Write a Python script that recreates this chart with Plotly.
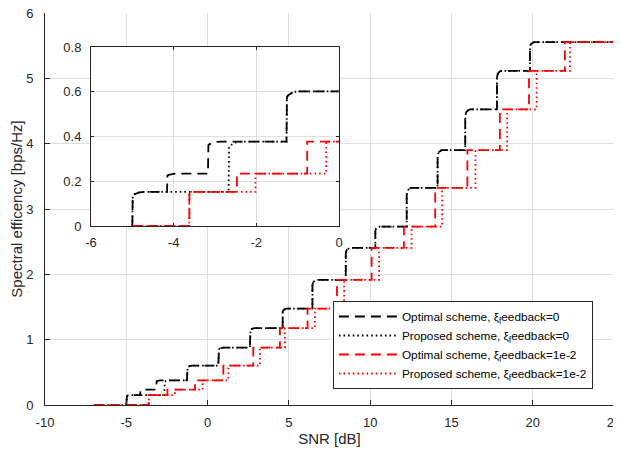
import math
import plotly.graph_objects as go

# ---------------- data ----------------
levels = [0.0, 0.1523, 0.2344, 0.3770, 0.6016, 0.8770, 1.1758, 1.4766,
          1.9141, 2.4063, 2.7305, 3.3223, 3.9023, 4.5234, 5.1152, 5.5547]

# SNR [dB] where each curve jumps to the next level
black_opt_snr = [-5.0, -4.16, -3.17, -1.27, 0.66, 2.60, 4.62, 6.45, 8.50,
                 10.32, 12.25, 14.15, 15.85, 17.80, 19.83]
black_opt_lvl = levels[1:]

black_prop_snr = [-5.0, -2.67, -1.27, 0.66, 2.60, 4.62, 6.45, 8.50,
                  10.32, 12.25, 14.15, 15.85, 17.80, 19.83]
black_prop_lvl = [levels[1]] + levels[3:]

red_opt_snr = [-3.62, -2.47, -0.77, 0.97, 2.81, 4.45, 6.15, 7.96, 10.09,
               12.08, 14.00, 15.98, 17.98, 19.77, 21.98]
red_opt_lvl = levels[1:]

red_prop_snr = [-3.62, -2.02, -0.31, 1.28, 3.22, 4.76, 6.60, 8.40, 10.55,
                12.55, 14.43, 16.48, 18.43, 20.24, 22.29]
red_prop_lvl = levels[1:]

snr_start_black = -5.0
snr_start_red_main = -7.0
snr_start_red_inset = -5.0
snr_end = 25.0

names = ["Optimal scheme, ξ<sub>f</sub>eedback=0",
         "Proposed scheme, ξ<sub>f</sub>eedback=0",
         "Optimal scheme, ξ<sub>f</sub>eedback=1e-2",
         "Proposed scheme, ξ<sub>f</sub>eedback=1e-2"]

main_xticks = [-10, -5, 0, 5, 10, 15, 20, 25]
main_xtext = ["-10", "-5", "0", "5", "10", "15", "20", "25"]
main_yticks = [0, 1, 2, 3, 4, 5, 6]
inset_xticks = [-6, -4, -2, 0]
inset_xtext = ["-6", "-4", "-2", "0"]
inset_yticks = [0, 0.2, 0.4, 0.6, 0.8]
inset_ytext = ["0", "0.2", "0.4", "0.6", "0.8"]


# ---------------- helpers ----------------
def step_path(x0, x_end, jumps, lvls, knee_dx=0.0, knee_frac=0.0):
    xs, ys = [x0], [0.0]
    prev = 0.0
    for xj, L in zip(jumps, lvls):
        xs.append(xj); ys.append(prev)
        if knee_dx > 0:
            dy = knee_frac * (L - prev)
            for deg in (0, 15, 30, 45, 60, 75, 90):
                t = math.radians(deg)
                xs.append(xj + knee_dx * (1 - math.cos(t)))
                ys.append(L - dy * (1 - math.sin(t)))
        else:
            xs.append(xj); ys.append(L)
        prev = L
    xs.append(x_end); ys.append(prev)
    return xs, ys


BLACK = "#000000"
RED = "#ff0000"
DASH = "10px,6px"
DOT = "1.6px,3px"
LW = 1.8
AX = "#262626"
GRID = "#dfdfdf"
FONT = "Liberation Sans, Arial, sans-serif"

fig = go.Figure()

specs = [
    (black_opt_snr, black_opt_lvl, snr_start_black, snr_start_black, BLACK, DASH, True),
    (black_prop_snr, black_prop_lvl, snr_start_black, snr_start_black, BLACK, DOT, True),
    (red_opt_snr, red_opt_lvl, snr_start_red_main, snr_start_red_inset, RED, DASH, False),
    (red_prop_snr, red_prop_lvl, snr_start_red_main, snr_start_red_inset, RED, DOT, False),
]

for i, (sx, lv, s_main, s_inset, col, dash, knee) in enumerate(specs):
    kdx = 0.3 if knee else 0.0
    kfr = 0.18 if knee else 0.0
    xm, ym = step_path(s_main, snr_end, sx, lv, kdx, kfr)
    fig.add_trace(go.Scatter(x=xm, y=ym, mode="lines", name=names[i],
                             line=dict(color=col, width=LW, dash=dash),
                             xaxis="x", yaxis="y", showlegend=True))

for i, (sx, lv, s_main, s_inset, col, dash, knee) in enumerate(specs):
    kdx = 0.3 if knee else 0.0
    kfr = 0.15 if knee else 0.0
    xi, yi = step_path(s_inset, 0.5, sx, lv, kdx, kfr)
    fig.add_trace(go.Scatter(x=xi, y=yi, mode="lines", name=names[i],
                             line=dict(color=col, width=LW, dash=dash),
                             xaxis="x2", yaxis="y2", showlegend=False))

tickfont = dict(family=FONT, size=13, color=AX)

# the page body adds an 8px offset, so the figure is 8px smaller
fig.update_layout(
    width=613, height=445,
    margin=dict(l=37, r=7, t=5, b=48),
    paper_bgcolor="white", plot_bgcolor="white",
    font=dict(family=FONT, size=13, color=AX),
    xaxis=dict(domain=[0, 1], range=[-10, 25], tickvals=main_xticks,
               ticktext=main_xtext, showgrid=True, gridcolor=GRID,
               gridwidth=1, zeroline=False, showline=True, linecolor=AX,
               linewidth=1, ticks="inside", ticklen=5, tickcolor=AX,
               tickfont=tickfont, mirror=False, automargin=False,
               ticklabelstandoff=5, ticklabeloverflow="allow",
               title=dict(text="SNR [dB]", font=dict(family=FONT, size=15, color=AX),
                          standoff=4)),
    yaxis=dict(domain=[0, 1], range=[0, 6], tickvals=main_yticks,
               showgrid=True, gridcolor=GRID, gridwidth=1, zeroline=False,
               showline=True, linecolor=AX, linewidth=1, ticks="inside",
               ticklen=5, tickcolor=AX, tickfont=tickfont, mirror=False,
               automargin=False, ticklabelstandoff=8, ticklabeloverflow="allow",
               title=dict(text="Spectral efficency [bps/Hz]",
                          font=dict(family=FONT, size=15, color=AX), standoff=6)),
    xaxis2=dict(domain=[0.0808, 0.5167], range=[-6, 0], anchor="y2",
                tickvals=inset_xticks, ticktext=inset_xtext, showgrid=True,
                gridcolor=GRID, zeroline=False, showline=True, linecolor=AX,
                linewidth=1, mirror="ticks", ticks="inside", ticklen=3,
                tickcolor=AX, tickfont=tickfont, automargin=False,
                ticklabelstandoff=4, ticklabeloverflow="allow"),
    yaxis2=dict(domain=[0.4566, 0.913], range=[0, 0.8], anchor="x2",
                tickvals=inset_yticks, ticktext=inset_ytext, showgrid=True,
                gridcolor=GRID, zeroline=False, showline=True, linecolor=AX,
                linewidth=1, mirror="ticks", ticks="inside", ticklen=3,
                tickcolor=AX, tickfont=tickfont, automargin=False,
                ticklabelstandoff=6, ticklabeloverflow="allow"),
    legend=dict(x=0.506, y=0.2653, xanchor="left", yanchor="top",
                bgcolor="white", bordercolor=AX, borderwidth=1,
                font=dict(family=FONT, size=11.8, color="#000000"),
                itemwidth=58, tracegroupgap=0),
    showlegend=True,
)

fig.write_html("out.html")
